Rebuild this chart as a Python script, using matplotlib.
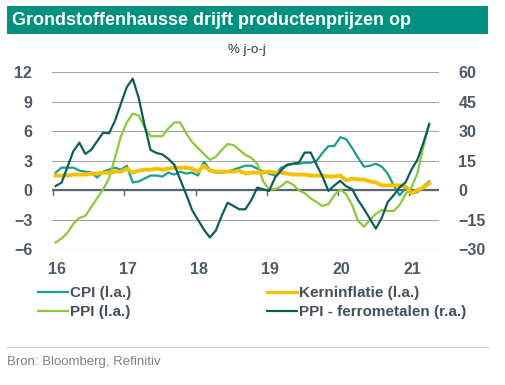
import numpy as np
import matplotlib
matplotlib.use("Agg")
import matplotlib.pyplot as plt
from matplotlib.patches import Rectangle
from matplotlib.lines import Line2D

plt.rcParams['font.family'] = ['Liberation Sans', 'DejaVu Sans']

# ── Data (monthly, Jan 2016 .. Apr 2021) ─────────────────────────────
year_labels = ['16', '17', '18', '19', '20', '21']

cpi = [1.8, 2.3, 2.3, 2.3, 2.0, 1.9, 1.8, 1.3, 1.9, 2.1, 2.3, 2.1,
       2.5, 0.8, 0.9, 1.2, 1.5, 1.5, 1.4, 1.8, 1.6, 1.9, 1.7, 1.8,
       1.5, 2.9, 2.1, 1.8, 1.8, 1.9, 2.1, 2.3, 2.5, 2.5, 2.2, 1.9,
       1.7, 1.5, 2.3, 2.5, 2.7, 2.7, 2.8, 2.8, 3.0, 3.8, 4.5, 4.5,
       5.4, 5.2, 4.3, 3.3, 2.4, 2.5, 2.7, 2.4, 1.7, 0.5, -0.5, 0.2,
       -0.3, -0.2, 0.4, 0.9]

kern = [1.5, 1.5, 1.5, 1.6, 1.6, 1.6, 1.7, 1.7, 1.8, 1.8, 1.9, 1.9,
        2.2, 1.8, 2.0, 2.1, 2.1, 2.2, 2.1, 2.2, 2.3, 2.3, 2.3, 2.2,
        1.9, 2.5, 2.0, 1.9, 1.9, 1.9, 1.9, 2.0, 1.7, 1.8, 1.8, 1.8,
        1.9, 1.8, 1.8, 1.7, 1.6, 1.6, 1.6, 1.5, 1.5, 1.5, 1.4, 1.4,
        1.5, 1.0, 1.2, 1.1, 1.1, 0.9, 0.8, 0.5, 0.5, 0.5, 0.5, 0.4,
        -0.3, 0.0, 0.3, 0.7]

ppi = [-5.3, -4.9, -4.3, -3.4, -2.8, -2.6, -1.7, -0.8, 0.1, 1.2, 3.3, 5.5,
       6.9, 7.8, 7.6, 6.4, 5.5, 5.5, 5.5, 6.3, 6.9, 6.9, 5.8, 4.9,
       4.3, 3.7, 3.1, 3.4, 4.1, 4.7, 4.6, 4.1, 3.6, 3.3, 2.7, 0.9,
       0.1, 0.1, 0.4, 0.9, 0.6, 0.0, -0.3, -0.8, -1.2, -1.6, -1.4, -0.5,
       0.1, -0.4, -1.5, -3.1, -3.7, -3.0, -2.4, -2.0, -2.1, -2.1, -1.5, -0.4,
       0.3, 1.7, 4.4, 6.8]

ferro = [2.2, 3.9, 12.0, 20.0, 24.2, 18.5, 20.6, 25.0, 29.3, 29.0, 35.3, 44.0,
         52.5, 56.8, 47.0, 33.0, 20.5, 19.0, 18.2, 16.0, 13.0, 5.5, -2.0, -10.0,
         -15.0, -20.0, -24.0, -20.5, -13.0, -6.3, -8.0, -9.7, -9.6, -5.0, 1.4, 0.5,
         -0.3, 6.5, 10.0, 13.0, 13.5, 14.0, 19.2, 19.2, 13.0, 7.0, -0.3, 2.5,
         4.8, 2.0, 0.6, -5.0, -9.5, -14.5, -19.5, -14.0, -6.0, -2.5, 1.5, 4.0,
         10.5, 15.5, 24.0, 33.5]

months = np.arange(len(cpi)) + 0.4

# ── Palette ───────────────────────────────────────────────────────────
C_CPI = '#1A9E8F'
C_PPI = '#8DC63F'
C_KERN = '#F5C000'
C_FER = '#0E5E57'
BANNER = '#00907F'
TICK = '#4D5964'
GRID = '#A6A6A6'

W, H = 506, 385
fig = plt.figure(figsize=(W / 100, H / 100), dpi=100)

# plot area in pixels: x 51.7..439, y 72.3..249.3
ax = fig.add_axes([51.7 / W, 1 - 249.3 / H, (439 - 51.7) / W, (249.3 - 72.3) / H])
ax2 = ax.twinx()

ax.set_xlim(-0.27, 65.05)
ax.set_ylim(-6, 12)
ax2.set_ylim(-30, 60)

for a in (ax, ax2):
    for s in a.spines.values():
        s.set_visible(False)

ax.set_yticks(np.arange(-6, 13, 3))
ax2.set_yticks(np.arange(-30, 61, 15))
ax.yaxis.grid(True, color=GRID, lw=0.8)
ax.set_axisbelow(True)
ax.axhline(0, color='#5B6770', lw=1.6, zorder=1)
for k in range(6):
    ax.plot([12 * k, 12 * k], [0, -0.45], color='#5B6770', lw=1.0, zorder=1)

ax.set_xticks(np.arange(6) * 12 + 0.6)
ax.set_xticklabels(year_labels)
ax.tick_params(axis='both', length=0, labelsize=11.5, labelcolor=TICK, pad=14)
ax.tick_params(axis='x', pad=9)
ax2.tick_params(axis='y', length=0, labelsize=11.5, labelcolor=TICK, pad=14)
for lab in ax.get_xticklabels() + ax.get_yticklabels() + ax2.get_yticklabels():
    lab.set_fontweight('bold')

ax.plot(months, cpi, color=C_CPI, lw=1.6, zorder=3)
ax.plot(months, ppi, color=C_PPI, lw=1.6, zorder=3)
ax.plot(months, kern, color=C_KERN, lw=2.8, zorder=4)
ax2.plot(months, ferro, color=C_FER, lw=1.6, zorder=3)

# ── Title banner ─────────────────────────────────────────────────────
fig.patches.append(Rectangle((7 / W, 1 - 34 / H), (488 - 7) / W, 28 / H,
                             transform=fig.transFigure, facecolor=BANNER,
                             edgecolor='none'))
fig.text(12 / W, 1 - 20.5 / H, 'Grondstoffenhausse drijft productenprijzen op',
         color='white', fontsize=13, fontweight='bold', va='center', ha='left')
fig.text(247 / W, 1 - 50 / H, '% j-o-j', color='#333333', fontsize=9.5,
         ha='center', va='center')

# ── Legend ───────────────────────────────────────────────────────────
h_cpi = Line2D([], [], color=C_CPI, lw=1.6)
h_ppi = Line2D([], [], color=C_PPI, lw=1.6)
h_kern = Line2D([], [], color=C_KERN, lw=2.4)
h_fer = Line2D([], [], color=C_FER, lw=1.6)
leg_kw = dict(frameon=False, borderpad=0, borderaxespad=0, handlelength=1.95,
              handletextpad=0.12, labelspacing=0.35,
              prop=dict(size=11, weight='bold'), labelcolor='#45505A')
fig.legend([h_cpi, h_ppi], ['CPI (l.a.)', 'PPI (l.a.)'], loc='upper left',
           bbox_to_anchor=(38 / W, 1 - 286 / H), **leg_kw)
fig.legend([h_kern, h_fer], ['Kerninflatie (l.a.)', 'PPI - ferrometalen (r.a.)'],
           loc='upper left', bbox_to_anchor=(267 / W, 1 - 286 / H), **leg_kw)

# ── Footer ───────────────────────────────────────────────────────────
fig.add_artist(Line2D([7 / W, 488 / W], [1 - 347 / H, 1 - 347 / H],
                      transform=fig.transFigure, color='#C8C8C8', lw=0.8))
fig.text(7 / W, 1 - 362 / H, 'Bron: Bloomberg, Refinitiv', color='#808080',
         fontsize=9.5, ha='left', va='center')

fig.savefig('out.png', dpi=100)
